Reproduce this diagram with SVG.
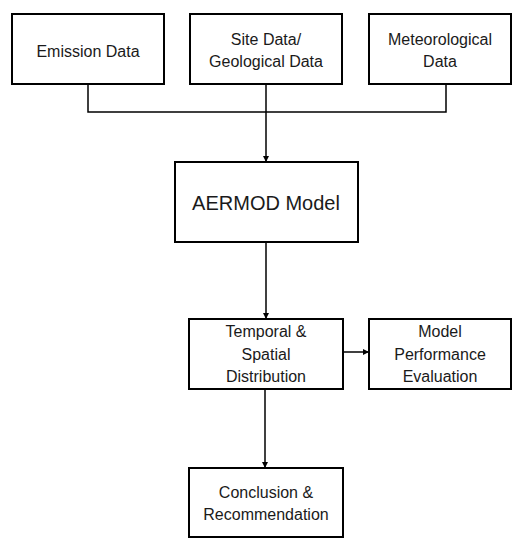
<svg xmlns="http://www.w3.org/2000/svg" width="512" height="538" viewBox="0 0 512 538">
  <style>
    .box { fill: #ffffff; stroke: #000000; stroke-width: 2; }
    .lbl { font-family: "Liberation Sans", Arial, sans-serif; font-size: 16px; fill: #1a1a1a; text-anchor: middle; }
    .big { font-size: 20px; }
    .wire { fill: none; stroke: #000000; stroke-width: 1.5; }
  </style>
  <defs>
    <marker id="arrow" viewBox="0 0 10 10" refX="10" refY="5" markerWidth="6" markerHeight="6" markerUnits="userSpaceOnUse" orient="auto">
      <path d="M0,0 L10,5 L0,10 Z" fill="#000000"/>
    </marker>
  </defs>
  <rect width="512" height="538" fill="#ffffff"/>

  <g id="connectors">
    <path class="wire" d="M88,84 V112 H446 V84"/>
    <path class="wire" d="M266,84 V162" marker-end="url(#arrow)"/>
    <path class="wire" d="M266,242 V319" marker-end="url(#arrow)"/>
    <path class="wire" d="M343,352 H369" marker-end="url(#arrow)"/>
    <path class="wire" d="M265,389 V468" marker-end="url(#arrow)"/>
  </g>

  <g id="emission">
    <rect class="box" x="12" y="14" width="152" height="70"/>
    <text class="lbl" x="88" y="57">Emission Data</text>
  </g>
  <g id="site">
    <rect class="box" x="190" y="14" width="152" height="70"/>
    <text class="lbl" x="266" y="45">Site Data/</text>
    <text class="lbl" x="266" y="67">Geological Data</text>
  </g>
  <g id="meteorological">
    <rect class="box" x="369" y="14" width="142" height="70"/>
    <text class="lbl" x="440" y="45">Meteorological</text>
    <text class="lbl" x="440" y="67">Data</text>
  </g>
  <g id="aermod">
    <rect class="box" x="175" y="162" width="183" height="80"/>
    <text class="lbl big" x="266" y="210">AERMOD Model</text>
  </g>
  <g id="distribution">
    <rect class="box" x="189" y="319" width="154" height="70"/>
    <text class="lbl" x="266" y="337">Temporal &amp;</text>
    <text class="lbl" x="266" y="360">Spatial</text>
    <text class="lbl" x="266" y="382">Distribution</text>
  </g>
  <g id="evaluation">
    <rect class="box" x="369" y="319" width="142" height="70"/>
    <text class="lbl" x="440" y="337">Model</text>
    <text class="lbl" x="440" y="360">Performance</text>
    <text class="lbl" x="440" y="382">Evaluation</text>
  </g>
  <g id="conclusion">
    <rect class="box" x="189" y="468" width="154" height="69"/>
    <text class="lbl" x="266" y="498">Conclusion &amp;</text>
    <text class="lbl" x="266" y="520">Recommendation</text>
  </g>
</svg>
